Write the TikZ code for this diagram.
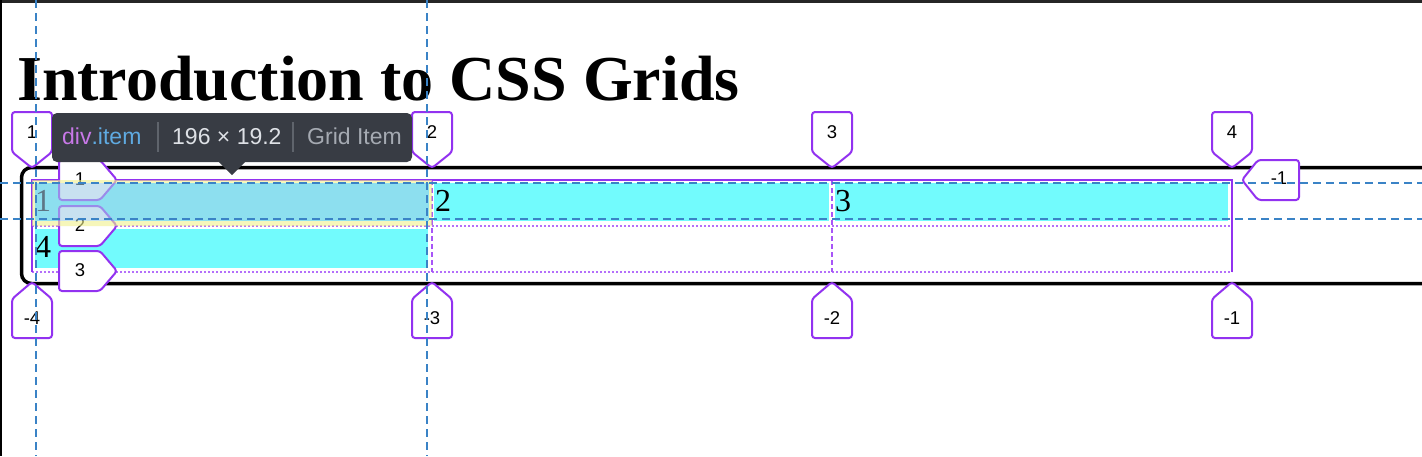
\documentclass[tikz,border=0pt]{standalone}
\usepackage{fontspec}
\setmainfont{Liberation Serif}
\setsansfont{Liberation Sans}
\definecolor{tabpurple}{RGB}{146,50,240}
\definecolor{colpurple}{RGB}{168,85,247}
\definecolor{rowpurple}{RGB}{180,112,250}
\definecolor{guideblue}{RGB}{58,131,198}
\definecolor{cellcyan}{RGB}{114,251,253}
\definecolor{boxblue}{RGB}{161,204,230}
\definecolor{marginyellow}{RGB}{240,240,140}
\definecolor{tipdark}{RGB}{56,60,68}
\definecolor{tipviolet}{RGB}{200,120,232}
\definecolor{tipblue}{RGB}{95,170,225}
\definecolor{tiplight}{RGB}{222,225,230}
\definecolor{tipgray}{RGB}{165,170,178}
\definecolor{tipsep}{RGB}{95,100,108}
\begin{document}
\begin{tikzpicture}[x=1pt,y=-1pt]
    \tikzstyle{every node}+=[inner sep=0pt]
    \tikzstyle{tab}=[draw=tabpurple,fill=white,line width=2pt,rounded corners=3pt]
    \tikzstyle{tabtext}=[font=\sffamily\fontsize{18.5}{18.5}\selectfont]
    \tikzstyle{cellnum}=[anchor=base west,font=\fontsize{32}{32}\selectfont]
    \tikzstyle{guide}=[guideblue,line width=2pt,dash pattern=on 8pt off 5pt]
    \tikzstyle{tiptext}=[anchor=base west,font=\sffamily\fontsize{23}{23}\selectfont]
    \useasboundingbox (0,0) rectangle (1422,456);
    \clip (0,0) rectangle (1422,456);
    \fill [white] (0,0) rectangle (1422,456);
    \fill [black!85] (0,0) rectangle (1422,2.5);
    \fill [black] (0,0) rectangle (2,456);
    \node (title) [anchor=base west,font=\bfseries\fontsize{64}{64}\selectfont] at (17,100) {Introduction to CSS Grids};
    \draw [black,line width=3.5pt,rounded corners=10pt] (1430,167.5) -- (21.5,167.5) -- (21.5,283.5) -- (1430,283.5);
    \fill [cellcyan] (35,183) rectangle (429,221);
    \fill [cellcyan] (434,183) rectangle (829,221);
    \fill [cellcyan] (835,183) rectangle (1228,221);
    \fill [cellcyan] (35,229) rectangle (428,268);
    \node (num1) [cellnum] at (35,211) {1};
    \node (num2) [cellnum] at (435,211) {2};
    \node (num3) [cellnum] at (835,211) {3};
    \node (num4) [cellnum] at (35,257) {4};
    \draw [rowpurple,line width=2pt,dash pattern=on 2pt off 2pt] (32,226) -- (1232,226);
    \draw [rowpurple,line width=2pt,dash pattern=on 2pt off 2pt] (32,271.5) -- (1232,271.5);
    \draw [colpurple,line width=2pt,dash pattern=on 5pt off 3pt] (432,180) -- (432,272);
    \draw [colpurple,line width=2pt,dash pattern=on 5pt off 3pt] (832,180) -- (832,272);
    \draw [tabpurple,line width=2pt] (32,272) -- (32,180) -- (1232,180) -- (1232,272);
    \draw [tab] (32,168) -- (12,152) -- (12,112) -- (52,112) -- (52,152) -- cycle;
    \node (top1) [tabtext] at (32,132) {1};
    \draw [tab] (432,168) -- (412,152) -- (412,112) -- (452,112) -- (452,152) -- cycle;
    \node (top2) [tabtext] at (432,132) {2};
    \draw [tab] (832,168) -- (812,152) -- (812,112) -- (852,112) -- (852,152) -- cycle;
    \node (top3) [tabtext] at (832,132) {3};
    \draw [tab] (1232,168) -- (1212,152) -- (1212,112) -- (1252,112) -- (1252,152) -- cycle;
    \node (top4) [tabtext] at (1232,132) {4};
    \draw [tab] (32,282) -- (52,299) -- (52,338) -- (12,338) -- (12,299) -- cycle;
    \node (bot1) [tabtext] at (32,318) {-4};
    \draw [tab] (432,282) -- (452,299) -- (452,338) -- (412,338) -- (412,299) -- cycle;
    \node (bot2) [tabtext] at (432,318) {-3};
    \draw [tab] (832,282) -- (852,299) -- (852,338) -- (812,338) -- (812,299) -- cycle;
    \node (bot3) [tabtext] at (832,318) {-2};
    \draw [tab] (1232,282) -- (1252,299) -- (1252,338) -- (1212,338) -- (1212,299) -- cycle;
    \node (bot4) [tabtext] at (1232,318) {-1};
    \draw [tab] (117,180) -- (100,160) -- (59,160) -- (59,200) -- (100,200) -- cycle;
    \node (left1) [tabtext] at (80,179) {1};
    \draw [tab] (117,226) -- (100,206) -- (59,206) -- (59,246) -- (100,246) -- cycle;
    \node (left2) [tabtext] at (80,225) {2};
    \draw [tab] (117,271) -- (100,251) -- (59,251) -- (59,291) -- (100,291) -- cycle;
    \node (left3) [tabtext] at (80,270) {3};
    \draw [tab] (1242,180) -- (1258,160) -- (1299,160) -- (1299,200) -- (1258,200) -- cycle;
    \node (right1) [tabtext] at (1279,178) {-1};
    \fill [marginyellow,opacity=0.6,even odd rule] (32,180) rectangle (432,226) (35,183) rectangle (429,221);
    \fill [boxblue,opacity=0.58] (35,183) rectangle (429,221);
    \draw [guide] (36,0) -- (36,456);
    \draw [guide] (427,0) -- (427,456);
    \draw [guide] (0,183) -- (1422,183);
    \draw [guide] (0,219) -- (1422,219);
    \fill [tipdark,rounded corners=5pt] (52,113) rectangle (412,162);
    \fill [tipdark] (218,161) -- (246,161) -- (232,175) -- cycle;
    \node (tipname) [tiptext] at (62,144) {\color{tipviolet}div\color{tipblue}.item};
    \draw [tipsep,line width=1.5pt] (158,122) -- (158,152);
    \node (tipsize) [tiptext,text=tiplight] at (172,144) {196 × 19.2};
    \draw [tipsep,line width=1.5pt] (293,122) -- (293,152);
    \node (tipkind) [tiptext,text=tipgray] at (307,144) {Grid Item};
\end{tikzpicture}
\end{document}
